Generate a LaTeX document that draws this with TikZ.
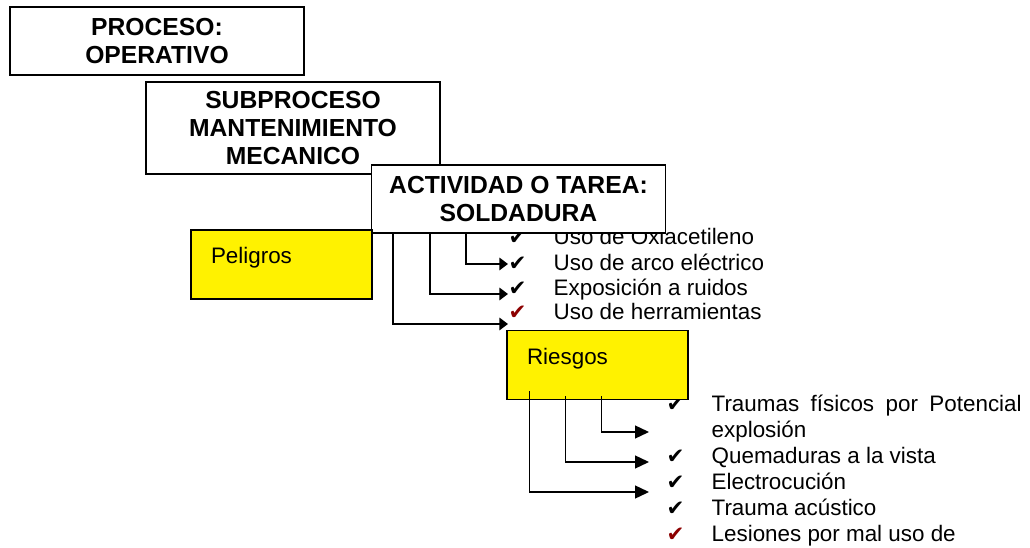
\documentclass[tikz,border=0pt]{standalone}
\usepackage{fontspec}
\setmainfont{Liberation Sans}
\newfontfamily\tickfont{DejaVu Sans}
\usetikzlibrary{arrows.meta}
\definecolor{tickred}{RGB}{140,0,0}

\begin{document}
\begin{tikzpicture}[x=0.75pt,y=-0.75pt,line width=1pt]
    % `heading' is used for the white title boxes.
    % `tag' is used for the yellow boxes (Peligros, Riesgos).
    % `item' and `tick' are the list lines and their check marks.
    \tikzstyle{heading} = [draw,fill=white,align=center,inner sep=0pt,minimum width=220.5pt,minimum height=51pt,font=\bfseries\fontsize{18.5pt}{21pt}\selectfont]
    \tikzstyle{tag} = [draw,fill=yellow,align=left,inner xsep=15pt,inner ysep=0pt,text width=105.75pt,minimum height=51.75pt,text height=12pt,text depth=12.75pt,font=\fontsize{16.8pt}{19.5pt}\selectfont]
    \tikzstyle{item} = [anchor=base west,inner sep=0pt,font=\fontsize{16.8pt}{19.5pt}\selectfont]
    \tikzstyle{tick} = [anchor=base west,inner sep=0pt,font=\tickfont\fontsize{16pt}{18pt}\selectfont]
    \tikzstyle{link} = [-{Triangle[length=10.5pt,width=9.75pt]}]
    \tikzstyle{shortlink} = [-{Triangle[length=6.5pt,width=9.5pt]}]
    %
    \useasboundingbox (0,0) rectangle (1030,548);
    % Peligros list, drawn first: the title box hides its top.
    \node[tick] (tp1) at (508,245) {✔};
    \node[item] (p1) at (553,245) {Uso de Oxiacetileno};
    \node[tick] (tp2) at (508,271) {✔};
    \node[item] (p2) at (553,271) {Uso de arco eléctrico};
    \node[tick] (tp3) at (508,295.5) {✔};
    \node[item] (p3) at (553,295.5) {Exposición a ruidos};
    \node[tick,text=tickred] (tp4) at (508,320) {✔};
    \node[item] (p4) at (553,320) {Uso de herramientas};
    % Riesgos list.
    \node[tick] (tr1) at (666,411) {✔};
    \node[item] (r1) at (711,411) {\makebox[232.5pt][s]{Traumas físicos por Potencial}};
    \node[item] (r1b) at (711,437) {explosión};
    \node[tick] (tr2) at (666,463.5) {✔};
    \node[item] (r2) at (711,463.5) {Quemaduras a la vista};
    \node[tick] (tr3) at (666,489.5) {✔};
    \node[item] (r3) at (711,489.5) {Electrocución};
    \node[tick] (tr4) at (666,515) {✔};
    \node[item] (r4) at (711,515) {Trauma acústico};
    \node[tick,text=tickred] (tr5) at (666,541) {✔};
    \node[item] (r5) at (711,541) {Lesiones por mal uso de};
    % Boxes.
    \node[heading] (proc) at (157,41) {PROCESO:\\OPERATIVO};
    \node[heading,minimum height=69pt] (sub) at (293,128) {SUBPROCESO\\MANTENIMIENTO\\MECANICO};
    \node[heading] (act) at (518.5,199) {ACTIVIDAD O TAREA:\\SOLDADURA};
    \node[tag] (pel) at (281.5,264.5) {Peligros};
    \node[tag] (ries) at (597.5,365) {Riesgos};
    % Arrow ends.
    \coordinate (e2) at (508,264);
    \coordinate (e3) at (508,294);
    \coordinate (e4) at (508,324);
    \coordinate (f1) at (649,432);
    \coordinate (f2) at (649,462);
    \coordinate (f3) at (649,492);
    % Draw connectors.
    \draw[shortlink] (act.south west) ++(95,0) |- (e2);
    \draw[shortlink] (act.south west) ++(59,0) |- (e3);
    \draw[shortlink] (act.south west) ++(22,0) |- (e4);
    \draw[link] (ries.south west) ++(95,-4) |- (f1);
    \draw[link] (ries.south west) ++(59,-4) |- (f2);
    \draw[link] (ries.south west) ++(23,-9) |- (f3);
\end{tikzpicture}
\end{document}
